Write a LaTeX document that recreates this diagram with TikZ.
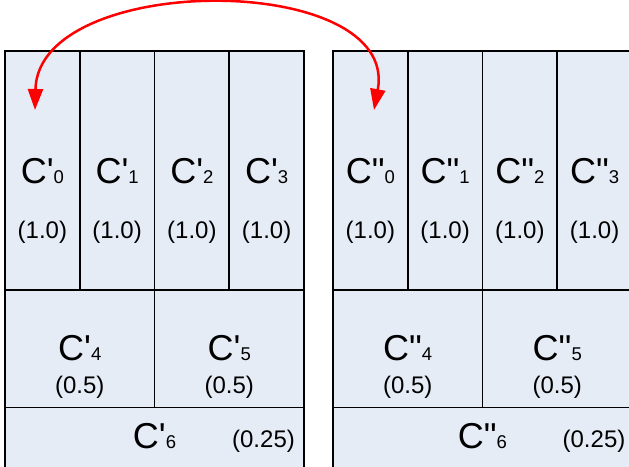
\documentclass[tikz,border=0pt]{standalone}
\usepackage{fontspec}
\setmainfont{Liberation Sans}[Ligatures=TeXOff]
\usetikzlibrary{arrows.meta}
\definecolor{cellfill}{RGB}{230,236,246}
\definecolor{arrowred}{RGB}{255,0,0}
\newcommand{\cellname}[2]{{\fontsize{36}{38}\selectfont C#1}{\fontsize{18.5}{20}\selectfont #2}}
\begin{document}
\begin{tikzpicture}[x=1pt,y=-1pt,
  cell/.style={draw=black, fill=cellfill, line width=1.9pt, inner sep=0pt, outer sep=0pt, anchor=north west},
  cname/.style={inner sep=0pt, anchor=base},
  weight/.style={inner sep=0pt, anchor=base, font=\fontsize{24}{26}\selectfont},
  swap arrow/.style={draw=arrowred, line width=2.5pt,
    {Triangle[length=21pt,width=15pt]}-{Triangle[length=21pt,width=15pt]}}]
\useasboundingbox (0,0) rectangle (629,466);
\fill[white] (0,0) rectangle (629,466);
\clip (0,0) rectangle (629,466);
% left panel
\foreach \i/\x in {0/5,1/79.75,2/154.5,3/229.25}{
  \node[cell, minimum width=74.75pt, minimum height=239pt] (L\i) at (\x,51) {};
}
\node[cell, minimum width=149.5pt, minimum height=117.5pt] (L4) at (5,290) {};
\node[cell, minimum width=149.5pt, minimum height=117.5pt] (L5) at (154.5,290) {};
\node[cell, minimum width=299pt, minimum height=80pt] (L6) at (5,407.5) {};
% right panel
\foreach \i/\x in {0/333,1/407.75,2/482.5,3/557.25}{
  \node[cell, minimum width=74.75pt, minimum height=239pt] (R\i) at (\x,51) {};
}
\node[cell, minimum width=149.5pt, minimum height=117.5pt] (R4) at (333,290) {};
\node[cell, minimum width=149.5pt, minimum height=117.5pt] (R5) at (482.5,290) {};
\node[cell, minimum width=299pt, minimum height=80pt] (R6) at (333,407.5) {};
% labels left
\foreach \i/\x in {0/42.4,1/117.1,2/191.9,3/266.6}{
  \node[cname] (tL\i) at (\x,183.5) {\cellname{'}{\i}};
  \node[weight] (wL\i) at (\x,238.5) {(1.0)};
}
\node[cname] (tL4) at (79.75,360.5) {\cellname{'}{4}};
\node[weight] (wL4) at (79.75,393.5) {(0.5)};
\node[cname] (tL5) at (229.25,360.5) {\cellname{'}{5}};
\node[weight] (wL5) at (229.25,393.5) {(0.5)};
\node[cname] (tL6) at (154.5,448) {\cellname{'}{6}};
\node[weight] (wL6) at (263.5,447.5) {(0.25)};
% labels right
\foreach \i/\x in {0/370.4,1/445.1,2/519.9,3/594.6}{
  \node[cname] (tR\i) at (\x,183.5) {\cellname{"}{\i}};
  \node[weight] (wR\i) at (\x,238.5) {(1.0)};
}
\node[cname] (tR4) at (407.75,360.5) {\cellname{"}{4}};
\node[weight] (wR4) at (407.75,393.5) {(0.5)};
\node[cname] (tR5) at (557.25,360.5) {\cellname{"}{5}};
\node[weight] (wR5) at (557.25,393.5) {(0.5)};
\node[cname] (tR6) at (482.5,448) {\cellname{"}{6}};
\node[weight] (wR6) at (594,447.5) {(0.25)};
% swap arrow
\coordinate (aL) at (35,110);
\coordinate (aR) at (374,110);
\draw[swap arrow] (aL) .. controls (38,-29) and (400,-29) .. (aR);
\end{tikzpicture}
\end{document}
